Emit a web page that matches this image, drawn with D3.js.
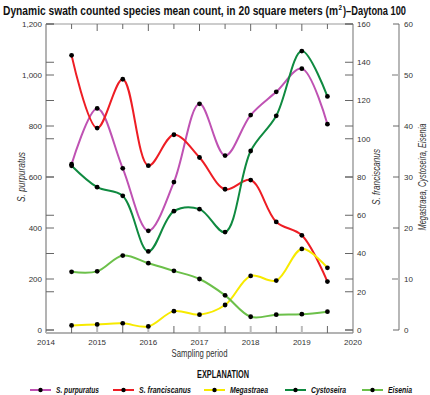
<!DOCTYPE html>
<html>
<head>
<meta charset="utf-8">
<script src="https://cdn.jsdelivr.net/npm/d3@7"></script>
<style>
  body { margin: 0; background: #fff; }
  svg { display: block; }
  text { font-family: "Liberation Sans", Arial, sans-serif; fill: #333; }
  .line { fill: none; stroke-width: 2; }
</style>
</head>
<body>
<svg width="430" height="395"></svg>
<script>
// sampling dates (half-year steps)
var periods = [2014.5, 2015, 2015.5, 2016, 2016.5, 2017, 2017.5, 2018, 2018.5, 2019, 2019.5];

// series values
var purpuratus = [650, 869, 634, 389, 580, 887, 684, 843, 934, 1025, 807];
var franciscanus = [143.6, 105.6, 131.1, 85.9, 102.1, 90.2, 73.6, 78.4, 56.5, 49.5, 25.3];
var megastraea = [0.9, 1.1, 1.3, 0.7, 3.7, 3.0, 4.9, 10.6, 9.7, 15.9, 12.2];
var cystoseira = [32.2, 28.0, 26.3, 15.4, 23.3, 23.7, 19.2, 35.1, 42.0, 54.7, 45.8];
var eisenia = [11.4, 11.5, 14.6, 13.1, 11.6, 10.0, 6.8, 2.6, 3.0, 3.1, 3.6];

// axis ticks
var leftTicks = [0, 200, 400, 600, 800, 1000, 1200];
var rightTicks = [0, 20, 40, 60, 80, 100, 120, 140, 160];
var thirdTicks = [0, 10, 20, 30, 40, 50, 60];
var yearTicks = [2014, 2015, 2016, 2017, 2018, 2019, 2020];

var names = ["S. purpuratus", "S. franciscanus", "Megastraea", "Cystoseira", "Eisenia"];

var config = {
  left: 46,
  right: 353,
  top: 24,
  zero: 330,
  base: 333,
  third: 399
};

var svg = d3.select("svg");

var x = d3.scaleLinear().domain([2014, 2020]).range([config.left, config.right]);
var yL = d3.scaleLinear().domain([0, 1200]).range([config.zero, config.top]);
var yR = d3.scaleLinear().domain([0, 160]).range([config.zero, config.top]);
var yM = d3.scaleLinear().domain([0, 60]).range([config.zero, config.top]);

var series = [
  {name: names[0], values: purpuratus, scale: yL, color: "#bf52b3"},
  {name: names[1], values: franciscanus, scale: yR, color: "#ee1d24"},
  {name: names[2], values: megastraea, scale: yM, color: "#f7ea00"},
  {name: names[3], values: cystoseira, scale: yM, color: "#0f8a40"},
  {name: names[4], values: eisenia, scale: yM, color: "#6cc04a"}
];

// title, in three pieces so the superscript sits right
var titleParts = [
  {x: 3, y: 15, w: 335, size: "12.5px", text: "Dynamic swath counted species mean count, in 20 square meters (m"},
  {x: 338.5, y: 9.5, w: 3.5, size: "7px", text: "2"},
  {x: 343, y: 15, w: 63, size: "12.5px", text: ")\u2013Daytona 100"}
];

svg.selectAll("text.title")
  .data(titleParts)
  .enter().append("text")
  .attr("class", "title")
  .attr("x", function(d) { return d.x; })
  .attr("y", function(d) { return d.y; })
  .attr("textLength", function(d) { return d.w; })
  .attr("lengthAdjust", "spacingAndGlyphs")
  .style("font-weight", "bold")
  .style("font-size", function(d) { return d.size; })
  .style("fill", "#111")
  .text(function(d) { return d.text; });

var axes = svg.append("g");

// frame lines
axes.append("line")
  .attr("x1", config.left).attr("x2", config.left)
  .attr("y1", config.top).attr("y2", config.base)
  .attr("stroke", "#b3b3b3").attr("stroke-width", 2);
axes.append("line")
  .attr("x1", config.left).attr("x2", config.right)
  .attr("y1", config.base).attr("y2", config.base)
  .attr("stroke", "#b3b3b3").attr("stroke-width", 2);
axes.append("line")
  .attr("x1", config.left).attr("x2", config.right)
  .attr("y1", config.top).attr("y2", config.top)
  .attr("stroke", "#999").attr("stroke-width", 1);
axes.append("line")
  .attr("x1", config.right).attr("x2", config.right)
  .attr("y1", config.top).attr("y2", config.base)
  .attr("stroke", "#888").attr("stroke-width", 1.2);

// left and right axes share tick marks from both scales
var tickYs = leftTicks.map(function(d) { return yL(d); })
  .concat(rightTicks.map(function(d) { return yR(d); }));

axes.selectAll("line.ltick")
  .data(tickYs)
  .enter().append("line")
  .attr("class", "ltick")
  .attr("x1", config.left).attr("x2", config.left + 8)
  .attr("y1", function(d) { return d; }).attr("y2", function(d) { return d; })
  .attr("stroke", "#666");

axes.selectAll("line.rtick")
  .data(tickYs)
  .enter().append("line")
  .attr("class", "rtick")
  .attr("x1", config.right - 8).attr("x2", config.right)
  .attr("y1", function(d) { return d; }).attr("y2", function(d) { return d; })
  .attr("stroke", "#666");

axes.selectAll("text.llab")
  .data(leftTicks)
  .enter().append("text")
  .attr("class", "llab")
  .attr("x", config.left - 4)
  .attr("y", function(d) { return yL(d); })
  .attr("dy", "0.35em")
  .attr("text-anchor", "end")
  .style("font-size", "8px")
  .text(function(d) { return d3.format(",")(d); });

axes.selectAll("text.rlab")
  .data(rightTicks)
  .enter().append("text")
  .attr("class", "rlab")
  .attr("x", config.right + 4)
  .attr("y", function(d) { return yR(d); })
  .attr("dy", "0.35em")
  .style("font-size", "8px")
  .text(function(d) { return d; });

// third axis
axes.append("line")
  .attr("x1", config.third).attr("x2", config.third)
  .attr("y1", config.top).attr("y2", config.zero)
  .attr("stroke", "#888").attr("stroke-width", 1.2);

axes.selectAll("line.mtick")
  .data(thirdTicks)
  .enter().append("line")
  .attr("class", "mtick")
  .attr("x1", function(d) { return (d == 10 || d == 50) ? config.third - 7 : config.third - 6; })
  .attr("x2", config.third)
  .attr("y1", function(d) { return yM(d); }).attr("y2", function(d) { return yM(d); })
  .attr("stroke", function(d) { return (d == 10 || d == 50) ? "#bbb" : "#666"; })
  .attr("stroke-width", function(d) { return (d == 10 || d == 50) ? 2 : 1; });

axes.selectAll("text.mlab")
  .data(thirdTicks)
  .enter().append("text")
  .attr("class", "mlab")
  .attr("x", config.third + 5)
  .attr("y", function(d) { return yM(d); })
  .attr("dy", "0.35em")
  .style("font-size", "8px")
  .text(function(d) { return d; });

// x ticks: years long, half years short, top and bottom
var halfTicks = d3.range(2014.5, 2020, 1);

axes.selectAll("line.xb")
  .data(yearTicks.slice(1, -1).concat(halfTicks))
  .enter().append("line")
  .attr("class", "xb")
  .attr("x1", function(d) { return x(d); }).attr("x2", function(d) { return x(d); })
  .attr("y1", config.base)
  .attr("y2", function(d) { return config.base - 7; })
  .attr("stroke", function(d) { return d % 1 == 0 ? "#bbb" : "#666"; })
  .attr("stroke-width", function(d) { return d % 1 == 0 ? 2 : 1; });

axes.selectAll("line.xt")
  .data(yearTicks.slice(1, -1).concat(halfTicks))
  .enter().append("line")
  .attr("class", "xt")
  .attr("x1", function(d) { return x(d); }).attr("x2", function(d) { return x(d); })
  .attr("y1", config.top)
  .attr("y2", function(d) { return config.top + (d % 1 == 0 ? 7 : 5); })
  .attr("stroke", "#666");

axes.selectAll("text.xlab")
  .data(yearTicks)
  .enter().append("text")
  .attr("class", "xlab")
  .attr("x", function(d) { return x(d); })
  .attr("y", config.base + 9)
  .attr("dy", "0.35em")
  .attr("text-anchor", "middle")
  .style("font-size", "8px")
  .text(function(d) { return d; });

// axis titles
svg.append("text")
  .attr("x", x(2017)).attr("y", 357)
  .attr("text-anchor", "middle")
  .attr("textLength", 56)
  .attr("lengthAdjust", "spacingAndGlyphs")
  .style("font-size", "10.5px")
  .text("Sampling period");

var yTitles = [
  {x: 25, w: 50, text: "S. purpuratus"},
  {x: 380, w: 56, text: "S. franciscanus"},
  {x: 426, w: 107, text: "Megastraea, Cystoseira, Eisenia"}
];

svg.selectAll("text.ytitle")
  .data(yTitles)
  .enter().append("text")
  .attr("class", "ytitle")
  .attr("transform", function(d) { return "translate(" + d.x + ",177) rotate(-90)"; })
  .attr("text-anchor", "middle")
  .attr("textLength", function(d) { return d.w; })
  .attr("lengthAdjust", "spacingAndGlyphs")
  .style("font-size", "10px")
  .style("font-style", "italic")
  .text(function(d) { return d.text; });

// lines and points
var plot = svg.append("g").attr("id", "plot");

series.forEach(function(s) {
  var pts = periods.map(function(p, i) { return [x(p), s.scale(s.values[i])]; });
  var line = d3.line().curve(d3.curveCatmullRom.alpha(0.5));

  plot.append("path")
    .attr("class", "line")
    .attr("d", line(pts))
    .attr("stroke", s.color);
});

series.forEach(function(s) {
  plot.selectAll(null)
    .data(s.values)
    .enter().append("circle")
    .attr("cx", function(d, i) { return x(periods[i]); })
    .attr("cy", function(d) { return s.scale(d); })
    .attr("r", 2.4)
    .attr("fill", "#000");
});

// legend
svg.append("text")
  .attr("x", 223).attr("y", 378)
  .attr("text-anchor", "middle")
  .attr("textLength", 52)
  .attr("lengthAdjust", "spacingAndGlyphs")
  .style("font-size", "10.5px")
  .style("font-weight", "bold")
  .style("fill", "#111")
  .text("EXPLANATION");

var legendX = [30, 113, 204, 285, 362];
var legendW = [43, 52, 38, 35, 24];

var leg = svg.selectAll("g.label")
  .data(series)
  .enter().append("g")
  .attr("class", "label")
  .attr("transform", function(d, i) { return "translate(" + legendX[i] + ",390)"; });

leg.append("line")
  .attr("x1", 0).attr("x2", 21)
  .attr("stroke", function(d) { return d.color; })
  .attr("stroke-width", 2);

leg.append("circle")
  .attr("cx", 10.5).attr("r", 2.2)
  .attr("fill", "#000");

leg.append("text")
  .attr("x", 26).attr("dy", "0.35em")
  .attr("textLength", function(d, i) { return legendW[i]; })
  .attr("lengthAdjust", "spacingAndGlyphs")
  .style("font-size", "9px")
  .style("font-weight", "bold")
  .style("font-style", "italic")
  .style("fill", "#111")
  .text(function(d) { return d.name; });
</script>
</body>
</html>
